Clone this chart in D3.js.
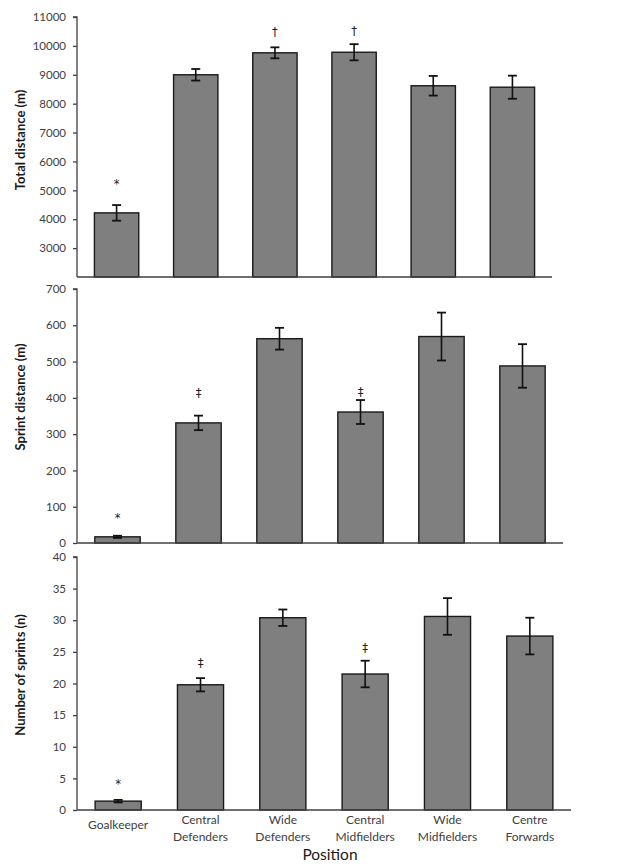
<!DOCTYPE html>
<html><head><meta charset="utf-8">
<script src="https://cdn.jsdelivr.net/npm/d3@7"></script>
<style>
body{margin:0;background:#fff;}
text{font-family:Lato,"Open Sans",sans-serif;fill:#404040;}
</style></head>
<body>
<svg id="c" width="621" height="866"></svg>
<script>
// ---- data ----
const categories = ["Goalkeeper","Central Defenders","Wide Defenders","Central Midfielders","Wide Midfielders","Centre Forwards"];
const categoryLines = [["Goalkeeper"],["Central","Defenders"],["Wide","Defenders"],["Central","Midfielders"],["Wide","Midfielders"],["Centre","Forwards"]];

const totalDistance = [4220, 9000, 9760, 9780, 8620, 8570];
const totalDistanceErr = [270, 200, 190, 280, 340, 400];
const totalDistanceMarks = ["*", "", "†", "†", "", ""];
const totalTicks = [3000,4000,5000,6000,7000,8000,9000,10000,11000];

const sprintDistance = [17, 331, 563, 361, 569, 488];
const sprintDistanceErr = [3, 20, 30, 33, 66, 60];
const sprintDistanceMarks = ["*", "‡", "", "‡", "", ""];
const sprintTicks = [0,100,200,300,400,500,600,700];

const sprintCount = [1.4, 19.8, 30.4, 21.5, 30.6, 27.5];
const sprintCountErr = [0.2, 1.05, 1.3, 2.1, 2.9, 2.9];
const sprintCountMarks = ["*", "‡", "", "‡", "", ""];
const countTicks = [0,5,10,15,20,25,30,35,40];

const panels = [
  {title:"Total distance (m)", values: totalDistance, err: totalDistanceErr, marks: totalDistanceMarks,
   ticks: totalTicks, domain:[2000,11000], top:17, bottom:277, right:552, titleY:140, markGap:[21,0,15,13,0,0]},
  {title:"Sprint distance (m)", values: sprintDistance, err: sprintDistanceErr, marks: sprintDistanceMarks,
   ticks: sprintTicks, domain:[0,700], top:289, bottom:543, right:563, titleY:397, markGap:[17,22,0,8,0,0]},
  {title:"Number of sprints (n)", values: sprintCount, err: sprintCountErr, marks: sprintCountMarks,
   ticks: countTicks, domain:[0,40], top:557, bottom:810, right:571, titleY:675, markGap:[15,15,0,12,0,0]}
];

const svg = d3.select("#c");
const left = 77;
const axisColor = "#404040";

let lastX = null;
panels.forEach(p => {
  const x = d3.scaleBand().domain(categories).range([left, p.right]).paddingInner(0.44).paddingOuter(0.22);
  const y = d3.scaleLinear().domain(p.domain).range([p.bottom, p.top]);
  lastX = x;
  const g = svg.append("g");

  // bars
  g.selectAll("rect.bar").data(categories).enter().append("rect")
    .attr("x", d => x(d)).attr("width", x.bandwidth())
    .attr("y", (d,i) => y(p.values[i]))
    .attr("height", (d,i) => y(p.domain[0]) - y(p.values[i]))
    .attr("fill", "#7f7f7f").attr("stroke", "#1a1a1a").attr("stroke-width", 1.4);

  // error bars
  const eb = g.selectAll("g.err").data(categories).enter().append("g");
  eb.append("line")
    .attr("x1", d => x(d) + x.bandwidth()/2).attr("x2", d => x(d) + x.bandwidth()/2)
    .attr("y1", (d,i) => y(p.values[i] + p.err[i])).attr("y2", (d,i) => y(p.values[i] - p.err[i]))
    .attr("stroke", "#111").attr("stroke-width", 1.6);
  [1,-1].forEach(s => {
    eb.append("line")
      .attr("x1", d => x(d) + x.bandwidth()/2 - 4.5).attr("x2", d => x(d) + x.bandwidth()/2 + 4.5)
      .attr("y1", (d,i) => y(p.values[i] + s*p.err[i])).attr("y2", (d,i) => y(p.values[i] + s*p.err[i]))
      .attr("stroke", "#111").attr("stroke-width", 1.8);
  });

  // significance marks
  g.append("g").style("opacity", 0.999).selectAll("text.mark").data(categories).enter().append("text")
    .attr("x", d => x(d) + x.bandwidth()/2)
    .attr("y", (d,i) => y(p.values[i] + p.err[i]) - p.markGap[i])
    .attr("text-anchor", "middle").attr("dominant-baseline", "middle")
    .attr("font-size", 11.5).style("font-family", "'DejaVu Sans'").style("fill", "#222")
    .text((d,i) => p.marks[i]);

  // y axis
  const ya = g.append("g").attr("transform", `translate(${left},0)`)
    .call(d3.axisLeft(y).tickValues(p.ticks).tickSize(4).tickPadding(7).tickFormat(d3.format("d")));
  ya.select(".domain").attr("stroke", axisColor).attr("stroke-width", 1.3).attr("d", `M-4,${p.top}H0V${p.bottom}`);
  ya.selectAll(".tick line").attr("stroke", axisColor).attr("stroke-width", 1.3);
  ya.selectAll(".tick text").attr("font-size", 11.5).attr("font-family", "Lato").style("fill", "#404040");

  // x axis baseline
  g.append("line").attr("x1", left).attr("x2", p.right)
    .attr("y1", y(p.domain[0])).attr("y2", y(p.domain[0]))
    .attr("stroke", axisColor).attr("stroke-width", 1.5);

  // y title
  g.append("text").attr("transform", `translate(22,${p.titleY}) rotate(-90)`)
    .attr("text-anchor", "middle").attr("dominant-baseline", "middle")
    .attr("font-size", 13).attr("font-weight", "bold").style("fill", "#1a1a1a")
    .text(p.title);
});

// category labels under bottom panel
const lab = svg.append("g");
categoryLines.forEach((lines, i) => {
  const cx = lastX(categories[i]) + lastX.bandwidth()/2;
  const t = lab.append("text").attr("x", cx).attr("text-anchor", "middle")
    .attr("font-size", 12).style("fill", "#404040");
  if (lines.length === 1) {
    t.attr("y", 829).text(lines[0]);
  } else {
    lines.forEach((ln, k) => t.append("tspan").attr("x", cx).attr("y", 824 + k*17).text(ln));
  }
});
svg.append("text").attr("x", 330).attr("y", 860).attr("text-anchor", "middle")
  .attr("font-size", 15.5).style("fill", "#1a1a1a").text("Position");
</script>
</body></html>
